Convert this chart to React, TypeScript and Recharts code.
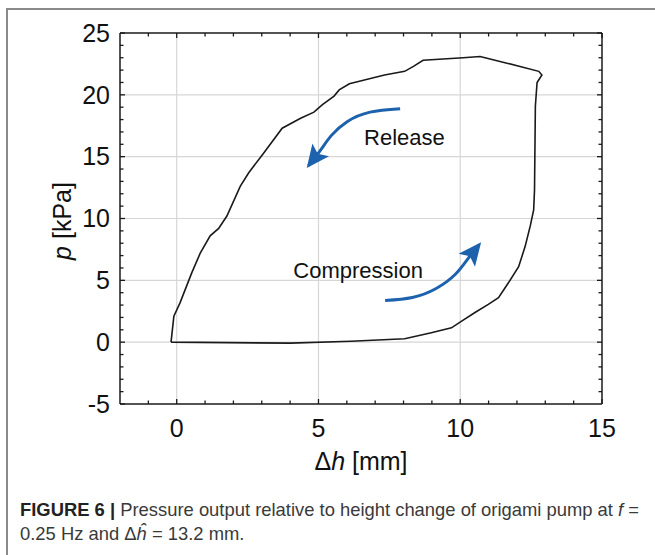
import React from 'react'
import {
  LineChart,
  Line,
  XAxis,
  YAxis,
  ReferenceLine,
  ReferenceDot,
} from 'recharts'

// loop of p against dh, in the order it is travelled
const dh = [
  -0.2, 4.0, 6.15, 8.04, 8.98, 9.69, 10.05, 10.52, 10.99, 11.35, 11.7, 12.06,
  12.29, 12.47, 12.59, 12.62, 12.65, 12.71, 12.88, 12.77, 11.58, 10.7, 10.1,
  8.69, 8.35, 8.04, 7.33, 6.62, 6.09, 5.73, 5.55, 5.14, 4.84, 4.37, 3.72, 3.07,
  2.54, 2.24, 1.77, 1.48, 1.18, 0.83, 0.53, 0.12, -0.1, -0.2,
]
const p = [
  0, -0.08, 0.08, 0.27, 0.76, 1.16, 1.7, 2.4, 3.05, 3.6, 4.8, 6.1, 7.75, 9.4,
  10.7, 12.3, 19.1, 21.0, 21.6, 21.9, 22.6, 23.1, 23.0, 22.8, 22.3, 21.9, 21.6,
  21.2, 20.9, 20.4, 19.9, 19.2, 18.6, 18.1, 17.3, 15.3, 13.7, 12.6, 10.2, 9.2,
  8.6, 7.2, 5.6, 3.2, 2.1, 0,
]

// arrows (start -> tip), in data units
const releaseX = [7.88, 6.82, 6.01, 5.45, 5.08, 4.65]
const releaseY = [18.88, 18.6, 17.83, 16.7, 15.55, 14.27]
const compressX = [7.35, 8.31, 9.15, 9.82, 10.25, 10.67]
const compressY = [3.37, 3.61, 4.34, 5.47, 6.68, 7.89]

const xTicks = [-1, 0, 1, 2, 3, 4, 5, 6, 7, 8, 9, 10, 11, 12, 13, 14, 15]
const yTicks = [
  -4, -3, -2, -1, 0, 1, 2, 3, 4, 5, 6, 7, 8, 9, 10, 11, 12, 13, 14, 15, 16, 17,
  18, 19, 20, 21, 22, 23, 24, 25,
]
const xLabels = [0, 5, 10, 15]
const yLabels = [-5, 0, 5, 10, 15, 20, 25]
const xGrid = [0, 5, 10]
const yGrid = [0, 5, 10, 15, 20]

const loop = dh.map((x, i) => ({ x, y: p[i] }))
const release = releaseX.map((x, i) => ({ x, y: releaseY[i] }))
const compress = compressX.map((x, i) => ({ x, y: compressY[i] }))

const FONT = '"Liberation Sans", Arial, Helvetica, sans-serif'
const INK = '#1a1a1a'
const BLUE = '#1d62ad'

const tickLen = (major: boolean) => (major ? 5 : 3.5)

const BottomTick = (props: any) => {
  const { x, y, payload } = props
  const major = xLabels.includes(payload.value)
  return (
    <g>
      <line x1={x} x2={x} y1={y} y2={y - tickLen(major)} stroke={INK} strokeWidth={1.3} />
      {major && (
        <text x={x} y={y + 33} textAnchor="middle" fontSize={25} fontFamily={FONT} fill="#111">
          {payload.value}
        </text>
      )}
    </g>
  )
}

const LeftTick = (props: any) => {
  const { x, y, payload } = props
  const major = yLabels.includes(payload.value)
  return (
    <g>
      <line x1={x} x2={x + tickLen(major)} y1={y} y2={y} stroke={INK} strokeWidth={1.3} />
      {major && (
        <text x={x - 10} y={y + 8.8} textAnchor="end" fontSize={25} fontFamily={FONT} fill="#111">
          {payload.value}
        </text>
      )}
    </g>
  )
}

const TopTick = (props: any) => {
  const { x, y, payload } = props
  const major = xLabels.includes(payload.value)
  return <line x1={x} x2={x} y1={y} y2={y + tickLen(major)} stroke={INK} strokeWidth={1.3} />
}

const RightTick = (props: any) => {
  const { x, y, payload } = props
  const major = yLabels.includes(payload.value)
  return <line x1={x} x2={x - tickLen(major)} y1={y} y2={y} stroke={INK} strokeWidth={1.3} />
}

// draws an arrow head on the last point, pointing away from the one before it
function arrowHead(count: number) {
  let prev: [number, number] | null = null
  return (props: any) => {
    const { cx, cy, index } = props
    if (index === count - 2) prev = [cx, cy]
    if (index !== count - 1 || !prev) return <g key={index} />
    const ang = (Math.atan2(cy - prev[1], cx - prev[0]) * 180) / Math.PI
    return (
      <path
        key={index}
        d="M3,0 L-20,-10.5 L-15,0 L-20,10.5 Z"
        transform={`translate(${cx},${cy}) rotate(${ang})`}
        fill={BLUE}
      />
    )
  }
}

const Note = (text: string) => (props: any) => (
  <text
    x={props.cx}
    y={props.cy + 8}
    textAnchor="middle"
    fontSize={22}
    fontFamily={FONT}
    fill="#111"
  >
    {text}
  </text>
)

const axisLine = { stroke: INK, strokeWidth: 1.5 }

export default function App() {
  return (
    <div style={{ position: 'absolute', left: 0, top: 0, width: 655, height: 555, background: '#fff' }}>
      <div
        style={{
          position: 'absolute',
          left: 6,
          top: 8,
          right: 0,
          bottom: 0,
          borderLeft: '2px solid #8a8a8a',
          borderTop: '2px solid #8a8a8a',
        }}
      />
      <LineChart
        width={655}
        height={480}
        margin={{ top: 32, right: 52, bottom: 75, left: 119 }}
        style={{ position: 'absolute', left: 0, top: 0 }}
      >
        <XAxis
          xAxisId="b"
          type="number"
          dataKey="x"
          domain={[-2, 15]}
          ticks={xTicks}
          interval={0}
          height={1}
          tickSize={0}
          tickMargin={0}
          axisLine={axisLine}
          tickLine={false}
          tick={(t: any) => <BottomTick {...t} />}
          allowDataOverflow
        />
        <XAxis
          xAxisId="t"
          orientation="top"
          type="number"
          dataKey="x"
          domain={[-2, 15]}
          ticks={xTicks}
          interval={0}
          height={1}
          tickSize={0}
          tickMargin={0}
          axisLine={axisLine}
          tickLine={false}
          tick={(t: any) => <TopTick {...t} />}
          allowDataOverflow
        />
        <YAxis
          yAxisId="l"
          type="number"
          dataKey="y"
          domain={[-5, 25]}
          ticks={[-5, ...yTicks]}
          interval={0}
          width={1}
          tickSize={0}
          tickMargin={0}
          axisLine={axisLine}
          tickLine={false}
          tick={(t: any) => <LeftTick {...t} />}
          allowDataOverflow
        />
        <YAxis
          yAxisId="r"
          orientation="right"
          type="number"
          dataKey="y"
          domain={[-5, 25]}
          ticks={yTicks}
          interval={0}
          width={1}
          tickSize={0}
          tickMargin={0}
          axisLine={axisLine}
          tickLine={false}
          tick={(t: any) => <RightTick {...t} />}
          allowDataOverflow
        />
        {xGrid.map((v) => (
          <ReferenceLine key={'gx' + v} xAxisId="b" yAxisId="l" x={v} stroke="#d6d6d6" strokeWidth={1.2} />
        ))}
        {yGrid.map((v) => (
          <ReferenceLine key={'gy' + v} xAxisId="b" yAxisId="l" y={v} stroke="#d6d6d6" strokeWidth={1.2} />
        ))}
        <Line
          xAxisId="b"
          yAxisId="l"
          data={loop}
          dataKey="y"
          type="linear"
          stroke={INK}
          strokeWidth={1.6}
          dot={false}
          activeDot={false}
          isAnimationActive={false}
        />
        <Line
          xAxisId="b"
          yAxisId="l"
          data={release}
          dataKey="y"
          type="natural"
          stroke={BLUE}
          strokeWidth={3}
          dot={arrowHead(release.length)}
          activeDot={false}
          isAnimationActive={false}
        />
        <Line
          xAxisId="b"
          yAxisId="l"
          data={compress}
          dataKey="y"
          type="natural"
          stroke={BLUE}
          strokeWidth={3}
          dot={arrowHead(compress.length)}
          activeDot={false}
          isAnimationActive={false}
        />
        <ReferenceDot xAxisId="b" yAxisId="l" x={8.03} y={16.6} r={0} shape={Note('Release')} />
        <ReferenceDot xAxisId="b" yAxisId="l" x={6.4} y={5.87} r={0} shape={Note('Compression')} />
      </LineChart>
      <svg width={655} height={555} style={{ position: 'absolute', left: 0, top: 0, pointerEvents: 'none' }}>
        <text x={361} y={470} textAnchor="middle" fontSize={25} fontFamily={FONT} fill="#111">
          Δ<tspan fontStyle="italic">h</tspan> [mm]
        </text>
        <text
          x={71}
          y={221}
          transform="rotate(-90 71 221)"
          textAnchor="middle"
          fontSize={25}
          fontFamily={FONT}
          fill="#111"
        >
          <tspan fontStyle="italic">p</tspan> [kPa]
        </text>
      </svg>
      <div
        style={{
          position: 'absolute',
          left: 20,
          top: 498,
          fontFamily: FONT,
          fontSize: 18.4,
          lineHeight: '24px',
          color: '#3a3a3a',
          whiteSpace: 'nowrap',
        }}
      >
        <b style={{ color: '#222' }}>FIGURE 6 |</b> Pressure output relative to height change of origami pump at{' '}
        <i>f</i> =
        <br />
        0.25 Hz and Δ<i>ĥ</i> = 13.2 mm.
      </div>
    </div>
  )
}
